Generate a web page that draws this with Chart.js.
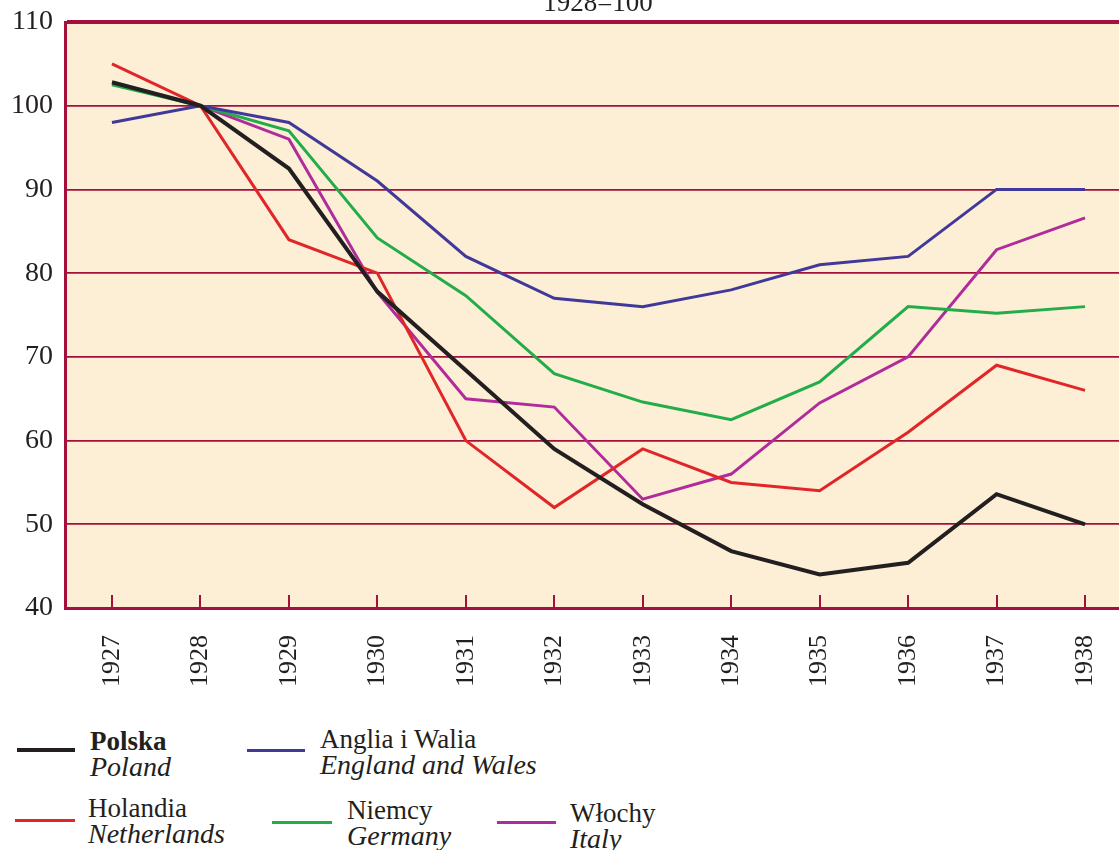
<!DOCTYPE html>
<html>
<head>
<meta charset="utf-8">
<script src="https://cdn.jsdelivr.net/npm/chart.js@4"></script>
<style>
  html, body { margin: 0; padding: 0; background: #fff; overflow: hidden; }
  body { width: 1119px; height: 850px; position: relative; font-family: "Liberation Serif", "Times New Roman", serif; color: #231f20; }
  #wrap { position: absolute; left: 0; top: 0; width: 1119px; height: 700px; }
  #subtitle { position: absolute; top: -11px; left: 0; width: 1196px; text-align: center; font-size: 27px; line-height: 26px; }
  .leg { position: absolute; font-size: 27px; line-height: 26px; white-space: nowrap; }
  .leg i { display: block; font-size: 28px; }
  .sw { position: absolute; height: 0; }
</style>
</head>
<body>
<div id="wrap"><canvas id="chart"></canvas></div>
<div id="subtitle">1928=100</div>

<div class="sw" style="left:17px;top:748px;width:58px;border-top:4px solid #231f20"></div>
<div class="leg" style="left:90px;top:728px"><b>Polska</b><i>Poland</i></div>
<div class="sw" style="left:247px;top:749px;width:58px;border-top:3px solid #40399a"></div>
<div class="leg" style="left:320px;top:726px">Anglia i Walia<i>England and Wales</i></div>
<div class="sw" style="left:15px;top:819px;width:60px;border-top:3px solid #e1262a"></div>
<div class="leg" style="left:88px;top:795px">Holandia<i>Netherlands</i></div>
<div class="sw" style="left:272px;top:821px;width:60px;border-top:3px solid #22ad4a"></div>
<div class="leg" style="left:347px;top:797px">Niemcy<i>Germany</i></div>
<div class="sw" style="left:497px;top:821px;width:59px;border-top:3px solid #b02c9a"></div>
<div class="leg" style="left:570px;top:800px">Włochy<i>Italy</i></div>

<script>
const years = [1927, 1928, 1929, 1930, 1931, 1932, 1933, 1934, 1935, 1936, 1937, 1938];
const poland = [102.8, 100, 92.5, 77.8, 68.4, 59, 52.4, 46.8, 44, 45.4, 53.6, 50];
const england = [98, 100, 98, 91, 82, 77, 76, 78, 81, 82, 90, 90];
const netherlands = [105, 100, 84, 80, 60, 52, 59, 55, 54, 61, 69, 66];
const germany = [102.5, 100, 97, 84.2, 77.3, 68, 64.6, 62.5, 67, 76, 75.2, 76];
const italy = [null, 100, 96, 77.7, 65, 64, 53, 56, 64.5, 70, 82.8, 86.6];
const yTicks = [40, 50, 60, 70, 80, 90, 100, 110];

const RED = '#a50f3c';
const BG = '#fdefd5';
const fontFamily = '"Liberation Serif", "Times New Roman", serif';

// cream fill behind the plot area only
const plotBg = {
  id: 'plotBg',
  beforeDraw(chart) {
    const { ctx, chartArea: a } = chart;
    ctx.save();
    ctx.fillStyle = BG;
    ctx.fillRect(a.left, a.top, a.right - a.left, a.bottom - a.top);
    ctx.restore();
  }
};

function line(label, data, color, width) {
  return { label, data, borderColor: color, backgroundColor: color, borderWidth: width, pointRadius: 0, tension: 0, fill: false };
}

new Chart(document.getElementById('chart'), {
  type: 'line',
  data: {
    labels: years,
    datasets: [
      line('Polska', poland, '#231f20', 4),
      line('Anglia i Walia', england, '#40399a', 3),
      line('Holandia', netherlands, '#e1262a', 3),
      line('Niemcy', germany, '#22ad4a', 3),
      line('Włochy', italy, '#b02c9a', 3),
    ]
  },
  options: {
    responsive: true,
    maintainAspectRatio: false,
    animation: false,
    layout: { padding: { top: 22, right: 0, left: 0, bottom: 0 } },
    plugins: { legend: { display: false }, tooltip: { enabled: false } },
    scales: {
      x: {
        type: 'linear',
        min: 1926.469,
        max: 1938.384,
        afterBuildTicks: (s) => { s.ticks = years.map((v) => ({ value: v })); },
        afterFit: (s) => { s.height = 92; s.paddingLeft = 0; s.paddingRight = 0; },
        grid: { drawOnChartArea: false, drawTicks: true, tickLength: -13, color: RED, lineWidth: 2 },
        border: { color: RED, width: 3 },
        ticks: { font: { family: fontFamily, size: 26 }, color: '#231f20', minRotation: 90, maxRotation: 90, padding: 40, autoSkip: false, callback: (v) => String(v) }
      },
      y: {
        min: 40,
        max: 110,
        afterBuildTicks: (s) => { s.ticks = yTicks.map((v) => ({ value: v })); },
        afterFit: (s) => { s.width = 65; s.paddingTop = 0; s.paddingBottom = 0; },
        grid: {
          drawTicks: false,
          color: RED,
          lineWidth: (c) => (c.tick && c.tick.value === 110 ? 4 : c.tick && c.tick.value === 40 ? 0 : 1.8)
        },
        border: { color: RED, width: 3 },
        ticks: { font: { family: fontFamily, size: 28 }, color: '#231f20', padding: 12, callback: (v) => String(v) }
      }
    }
  },
  plugins: [plotBg]
});
</script>
</body>
</html>
